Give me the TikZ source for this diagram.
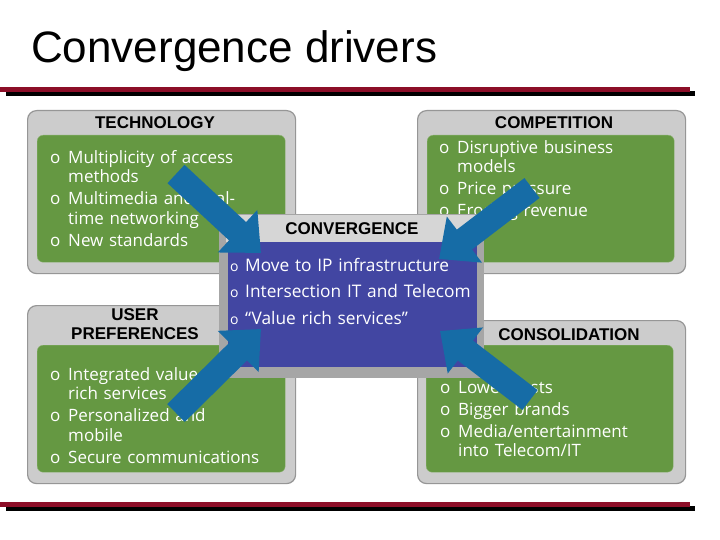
\documentclass[tikz,border=0pt]{standalone}
\usepackage{fontspec}
\setmainfont{Liberation Sans}
\newfontfamily\listfont{Open Sans}
\usetikzlibrary{arrows.meta, positioning}

\definecolor{drvgreen}{RGB}{101,152,66}
\definecolor{convblue}{RGB}{66,70,162}
\definecolor{arrowblue}{RGB}{22,108,166}
\definecolor{rulered}{RGB}{140,14,40}
\definecolor{framegray}{RGB}{204,204,204}
\definecolor{edgegray}{RGB}{150,150,150}
\definecolor{headgray}{RGB}{214,214,214}

% one bullet item with hanging indent
\newcommand{\drvitem}[1]{\hangindent=18pt\hangafter=1\noindent\makebox[18pt][l]{o}#1\par\vspace{2.5pt}}
\newcommand{\convitem}[1]{\noindent\makebox[15pt][l]{\fontsize{14}{14}\selectfont o}#1\par}

\begin{document}
\begin{tikzpicture}[x=1pt, y=-1pt,
    >=Latex,
    outerbox/.style={draw=edgegray, line width=1.2pt, fill=framegray, rounded corners=9pt, anchor=north west, inner sep=0pt},
    greenbox/.style={draw=drvgreen!75!white, fill=drvgreen, rounded corners=6pt, anchor=north west, inner sep=0pt},
    boxtitle/.style={font=\fontsize{17}{19}\selectfont\bfseries, inner sep=0pt},
    drvlist/.style={anchor=north west, inner sep=0pt, text width=235pt, align=left, text=white, font=\listfont\fontsize{17}{19.5}\selectfont},
    convlist/.style={anchor=north west, inner sep=0pt, text width=300pt, align=left, text=white, font=\listfont\fontsize{17.3}{26.5}\selectfont},
    drvarrow/.style={draw=arrowblue, line width=25pt, -{Triangle[width=56pt, length=32pt]}},
    rulebar/.style={line width=5pt}
  ]
  \useasboundingbox[fill=white] (0,0) rectangle (720,540);

  % title and rules
  \node[anchor=base west, inner sep=0pt, font=\fontsize{44}{48}\selectfont] (title) at (31,63) {Convergence drivers};
  \draw[rulebar, black] (6,94) -- (695,94);
  \draw[rulebar, rulered] (0,90) -- (690,90);
  \draw[rulebar, black] (6,508) -- (695,508);
  \draw[rulebar, rulered] (0,504) -- (690,504);

  % driver boxes
  \node[outerbox, minimum width=268pt, minimum height=163pt] (tech) at (27,110) {};
  \node[outerbox, minimum width=268pt, minimum height=163pt] (comp) at (417,110) {};
  \node[outerbox, minimum width=268pt, minimum height=178pt] (user) at (27,305) {};
  \node[outerbox, minimum width=268pt, minimum height=163pt] (cons) at (417,320) {};

  \node[greenbox, minimum width=248pt, minimum height=127pt] (techin) at (37,135) {};
  \node[greenbox, minimum width=247pt, minimum height=127pt] (compin) at (427,135) {};
  \node[greenbox, minimum width=248pt, minimum height=127pt] (userin) at (37,345) {};
  \node[greenbox, minimum width=247pt, minimum height=127pt] (consin) at (426,345) {};

  \node[boxtitle] (techtitle) at (155,123) {TECHNOLOGY};
  \node[boxtitle] (comptitle) at (554,123) {COMPETITION};
  \node[boxtitle, align=center, font=\fontsize{17}{18.5}\selectfont\bfseries] (usertitle) at (135,324) {USER\\PREFERENCES};
  \node[boxtitle] (constitle) at (569,335) {CONSOLIDATION};

  \node[drvlist] (techlist) at (50,150) {%
    \drvitem{Multiplicity of access\newline methods}
    \drvitem{Multimedia and real-\newline time networking}
    \drvitem{New standards}};
  \node[drvlist] (complist) at (439,140) {%
    \drvitem{Disruptive business\newline models}
    \drvitem{Price pressure}
    \drvitem{Eroding revenue}};
  \node[drvlist] (userlist) at (50,367) {%
    \drvitem{Integrated value\newline rich services}
    \drvitem{Personalized and\newline mobile}
    \drvitem{Secure communications}};
  \node[drvlist] (conslist) at (440,381) {%
    \drvitem{Lower costs}
    \drvitem{Bigger brands}
    \drvitem{Media/entertainment\newline into Telecom/IT}};

  % convergence box
  \node[fill=edgegray!85!white, minimum width=265pt, minimum height=164pt, anchor=north west, inner sep=0pt] (conv) at (219,214) {};
  \node[fill=headgray, minimum width=253pt, minimum height=27pt, anchor=north west, inner sep=0pt] (convhead) at (226,215) {};
  \node[fill=convblue, minimum width=249pt, minimum height=125pt, anchor=north west, inner sep=0pt] (convin) at (228,242) {};
  \node[boxtitle] (convtitle) at (352,229) {CONVERGENCE};
  \node[convlist] (convlist) at (230,258) {%
    \convitem{Move to IP infrastructure}
    \convitem{Intersection IT and Telecom}
    \convitem{“Value rich services”}};

  % arrows into the centre
  \coordinate (techtail) at (176,174);
  \coordinate (techtip)  at (261,253);
  \coordinate (comptail) at (532,188);
  \coordinate (comptip)  at (439,259);
  \coordinate (usertail) at (176,413);
  \coordinate (usertip)  at (261,329);
  \coordinate (constail) at (530,400);
  \coordinate (constip)  at (440,331);
  \draw[drvarrow] (techtail) -- (techtip);
  \draw[drvarrow] (comptail) -- (comptip);
  \draw[drvarrow] (usertail) -- (usertip);
  \draw[drvarrow] (constail) -- (constip);
\end{tikzpicture}
\end{document}
